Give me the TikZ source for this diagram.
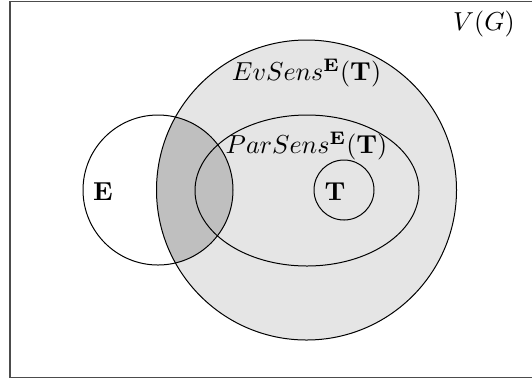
\documentclass[tikz,border=0pt]{standalone}
\begin{document}
\begin{tikzpicture}[x=0.4pt,y=-0.4pt,
  setline/.style={draw=black,line width=0.4pt},
  frameline/.style={draw=black!70,line width=0.6pt},
  lightfill/.style={fill=black!10},
  darkfill/.style={fill=black!25},
  lbl/.style={inner sep=0pt,scale=1.04}]
\useasboundingbox (0,0) rectangle (532,382);
% frame
\draw[frameline] (10,1.5) rectangle (536,377.5);
% fills
\fill[lightfill] (306.5,190) circle (150);
\begin{scope}
  \clip (306.5,190) circle (150);
  \fill[darkfill] (158,190) circle (75);
\end{scope}
% outlines
\draw[setline] (306.5,190) circle (150);
\draw[setline] (158,190) circle (75);
\draw[setline] (307,190.5) ellipse [x radius=112, y radius=75.5];
\draw[setline] (344,190) circle (30);
% labels
\node[lbl] (vg) at (484,24) {$V(G)$};
\node[lbl] (ev) at (306.5,73) {$EvSens^{\mathbf{E}}(\mathbf{T})$};
\node[lbl] (par) at (306.5,146) {$ParSens^{\mathbf{E}}(\mathbf{T})$};
\node[lbl] (e) at (103,192) {$\mathbf{E}$};
\node[lbl] (t) at (335,192) {$\mathbf{T}$};
\end{tikzpicture}
\end{document}
